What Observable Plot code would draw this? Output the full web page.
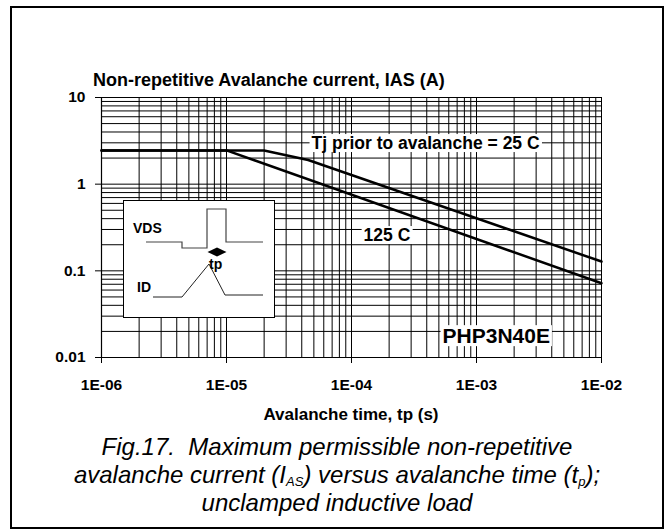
<!DOCTYPE html>
<html><head><meta charset="utf-8">
<script src="https://cdn.jsdelivr.net/npm/d3@7"></script>
<script src="https://cdn.jsdelivr.net/npm/@observablehq/plot@0.6"></script>
<style>
body{margin:0;background:#fff;font-family:"Liberation Sans",Arial,sans-serif;}
#wrap{position:relative;width:667px;height:529px;overflow:hidden;background:#fff;}
#frame{position:absolute;left:10px;top:6px;width:650px;height:519px;border:2px solid #000;z-index:10;background:transparent;pointer-events:none;}
#chart{position:absolute;left:0;top:0;}
#title{position:absolute;left:93px;top:70px;font-weight:bold;font-size:18px;white-space:nowrap;}
#xlabel{position:absolute;left:101px;width:500px;text-align:center;top:405px;font-weight:bold;font-size:17px;}
#caption{position:absolute;left:11px;width:652px;top:433px;text-align:center;font-family:"Liberation Sans",Arial,sans-serif;font-style:italic;font-size:24px;line-height:28px;}
#caption sub{font-size:13px;vertical-align:-3px;line-height:0;}
</style></head><body>
<div id="wrap">
<div id="chart"></div>
<div id="title">Non-repetitive Avalanche current, IAS (A)</div>
<div id="xlabel">Avalanche time, tp (s)</div>
<div id="caption">Fig.17.&nbsp; Maximum permissible non-repetitive<br>avalanche current (I<sub>AS</sub>) versus avalanche time (t<sub>p</sub>);<br>unclamped inductive load</div>
<div id="frame"></div>
</div>
<script>
// Data
const tp25 = [1e-6, 2e-5, 4.5e-5, 1e-2];
const ias25 = [2.45, 2.45, 1.9, 0.128];
const tp125 = [1e-6, 1e-5, 1e-2];
const ias125 = [2.45, 2.45, 0.072];

const xTicks = [1e-6, 1e-5, 1e-4, 1e-3, 1e-2];
const xTickLabels = ["1E-06", "1E-05", "1E-04", "1E-03", "1E-02"];
const yTicks = [0.01, 0.1, 1, 10];
const yTickLabels = ["0.01", "0.1", "1", "10"];

const annoText = ["Tj prior to avalanche = 25 C", "125 C", "PHP3N40E"];
const annoX = [4.79e-5, 1.25e-4, 5.35e-4];
const annoY = [2.95, 0.256, 0.0175];
const annoSize = [17.5, 17.5, 21];

// log grid lines (1..9 per decade)
const xGrid = [];
for (let d = -6; d < -2; d++) for (let m = 1; m <= 9; m++) xGrid.push(m * Math.pow(10, d));
xGrid.push(1e-2);
const yGrid = [];
for (let d = -2; d < 1; d++) for (let m = 1; m <= 9; m++) yGrid.push(m * Math.pow(10, d));
yGrid.push(10);

const lab = (ticks, labels) => d => {
  const i = ticks.findIndex(t => Math.abs(Math.log10(t) - Math.log10(d)) < 1e-6);
  return i >= 0 ? labels[i] : "";
};

const s25 = tp25.map((t, i) => ({t, v: ias25[i]}));
const s125 = tp125.map((t, i) => ({t, v: ias125[i]}));
const annos = annoText.map((s, i) => ({s, x: annoX[i], y: annoY[i], f: annoSize[i]}));

const plot = Plot.plot({
  width: 667, height: 420,
  marginLeft: 101, marginRight: 66, marginTop: 97, marginBottom: 63,
  style: {fontFamily: "Liberation Sans, Arial, sans-serif", fontWeight: "bold", background: "transparent", overflow: "visible", color: "#000"},
  x: {type: "log", domain: [1e-6, 1e-2]},
  y: {type: "log", domain: [0.01, 10]},
  marks: [
    Plot.ruleX(xGrid, {stroke: "#000", strokeWidth: 1}),
    Plot.ruleY(yGrid, {stroke: "#000", strokeWidth: 1}),
    Plot.axisX({ticks: xTicks, tickFormat: lab(xTicks, xTickLabels), tickSize: 6, tickPadding: 15, fontSize: 15.5, label: null, stroke: "#000"}),
    Plot.axisY({ticks: yTicks, tickFormat: lab(yTicks, yTickLabels), tickSize: 6, tickPadding: 10, fontSize: 15.5, label: null, stroke: "#000"}),
    Plot.ruleX([1e-6], {stroke: "#000", strokeWidth: 1.2}),
    Plot.line(s25, {x: "t", y: "v", stroke: "#000", strokeWidth: 2.5}),
    Plot.line(s125, {x: "t", y: "v", stroke: "#000", strokeWidth: 2.5}),
    Plot.text(annos, {x: "x", y: "y", text: "s", fontSize: "f", textAnchor: "start", fill: "#000"})
  ]
});
document.getElementById("chart").appendChild(plot);

const svg = d3.select(plot);
// white boxes behind annotations
svg.selectAll('g[aria-label="text"] text').each(function() {
  const b = this.getBBox();
  const t = this;
  const r = d3.select(t.parentNode).insert("rect", () => t)
    .attr("x", b.x - 2).attr("y", b.y + 1).attr("width", b.width + 4).attr("height", b.height - 2)
    .attr("fill", "#fff").attr("stroke", "none");
  const tr = t.getAttribute("transform");
  if (tr) r.attr("transform", tr);
});

// inset schematic (decoration, local pixel units)
const vds = [[23,42],[59,42],[59,48],[84,48],[84,9],[103,9],[103,42],[140,42]];
const idw = [[30,97],[59,97],[86,64],[102,95],[140,95]];
const g = svg.append("g").attr("transform", "translate(123,200)").attr("text-anchor", "start");
g.append("rect").attr("x", 0.5).attr("y", 0.5).attr("width", 151).attr("height", 117).attr("fill", "#fff").attr("stroke", "#000").attr("stroke-width", 1);
const ln = d3.line();
g.append("path").attr("d", ln(vds)).attr("fill", "none").attr("stroke", "#444").attr("stroke-width", 1.2);
g.append("path").attr("d", ln(idw)).attr("fill", "none").attr("stroke", "#222").attr("stroke-width", 1);
g.append("path").attr("d", "M84.5,52L94,47.5L103.5,52L94,56.5Z").attr("fill", "#000");
g.append("text").attr("x", 10).attr("y", 33).attr("text-anchor", "start").text("VDS").attr("font-size", 14).attr("font-weight", "bold");
g.append("text").attr("x", 86).attr("y", 69).attr("text-anchor", "start").text("tp").attr("font-size", 14).attr("font-weight", "bold");
g.append("text").attr("x", 14).attr("y", 92).attr("text-anchor", "start").text("ID").attr("font-size", 14).attr("font-weight", "bold");
</script>
</body></html>
